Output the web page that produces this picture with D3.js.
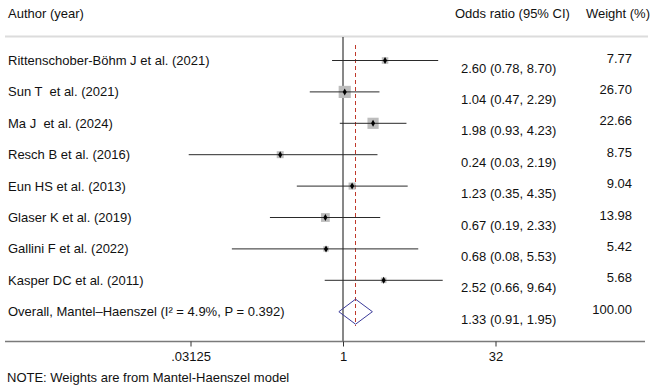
<!DOCTYPE html>
<html>
<head>
<meta charset="utf-8">
<script src="https://cdn.jsdelivr.net/npm/d3@7"></script>
<style>
  body { margin: 0; background: #fff; }
  svg text { font-family: "Liberation Sans", Arial, sans-serif; fill: #111; white-space: pre; }
</style>
</head>
<body>
<svg id="chart"></svg>
<script>
// study data
const studies = [
  "Rittenschober-Böhm J et al. (2021)",
  "Sun T  et al. (2021)",
  "Ma J  et al. (2024)",
  "Resch B et al. (2016)",
  "Eun HS et al. (2013)",
  "Glaser K et al. (2019)",
  "Gallini F et al. (2022)",
  "Kasper DC et al. (2011)"
];
const oddsRatio = [2.60, 1.04, 1.98, 0.24, 1.23, 0.67, 0.68, 2.52];
const ciLow = [0.78, 0.47, 0.93, 0.03, 0.35, 0.19, 0.08, 0.66];
const ciHigh = [8.70, 2.29, 4.23, 2.19, 4.35, 2.33, 5.53, 9.64];
const weights = [7.77, 26.70, 22.66, 8.75, 9.04, 13.98, 5.42, 5.68];

const overallLabel = "Overall, Mantel–Haenszel (I² = 4.9%, P = 0.392)";
const overall = { or: 1.33, lo: 0.91, hi: 1.95, w: 100.00 };

const tickValues = [0.03125, 1, 32];
const tickLabels = [".03125", "1", "32"];

const width = 653, height = 390;
const fmt = d3.format(".2f");

const svg = d3.select("#chart")
  .attr("width", width)
  .attr("height", height);

// log2 scale for odds ratio
const x = d3.scaleLog().base(2)
  .domain([1 / 32, 32])
  .range([190.5, 495.5]);

const rows = studies.map((s, i) => ({
  label: s, or: oddsRatio[i], lo: ciLow[i], hi: ciHigh[i], w: weights[i]
}));

const y = d3.scalePoint()
  .domain(d3.range(rows.length + 1))
  .range([60.5, 311.7]);

const sizeScale = d3.scaleSqrt().domain([0, 100]).range([0, 23.5]);

// header
svg.append("text").attr("x", 8).attr("y", 18).attr("font-size", 13).text("Author (year)");
svg.append("text").attr("x", 455).attr("y", 18).attr("font-size", 13).text("Odds ratio (95% CI)");
svg.append("text").attr("x", 650).attr("y", 18).attr("font-size", 13)
  .attr("text-anchor", "end").text("Weight (%)");

svg.append("line")
  .attr("x1", 5).attr("x2", 648)
  .attr("y1", 36.5).attr("y2", 36.5)
  .attr("stroke", "#dcdcdc").attr("stroke-width", 2);

const axisY = 341.5;

// null line at 1
svg.append("line")
  .attr("x1", x(1)).attr("x2", x(1))
  .attr("y1", 37).attr("y2", axisY)
  .attr("stroke", "#111").attr("stroke-width", 1);

// overall effect dashed line (snapped to pixel so the red stays visible)
const xo = Math.round(x(overall.or)) - 0.5;
svg.append("line")
  .attr("x1", xo).attr("x2", xo)
  .attr("y1", 45).attr("y2", 326)
  .attr("stroke", "#c0392b").attr("stroke-width", 1)
  .attr("stroke-dasharray", "4,3");

const g = svg.selectAll(".study")
  .data(rows)
  .join("g")
  .attr("class", "study")
  .attr("transform", (d, i) => `translate(0,${y(i)})`);

g.append("text")
  .attr("x", 8).attr("dy", "0.35em").attr("font-size", 13)
  .text(d => d.label);

g.append("rect")
  .attr("x", d => x(d.or) - sizeScale(d.w) / 2)
  .attr("y", d => -sizeScale(d.w) / 2)
  .attr("width", d => sizeScale(d.w))
  .attr("height", d => sizeScale(d.w))
  .attr("fill", "#bdbdbd");

g.append("line")
  .attr("x1", d => x(d.lo)).attr("x2", d => x(d.hi))
  .attr("stroke", "#2a2a2a").attr("stroke-width", 1);

g.append("path")
  .attr("transform", d => `translate(${x(d.or)},0)`)
  .attr("d", d3.symbol(d3.symbolDiamond, 14))
  .attr("fill", "#000");

g.append("text")
  .attr("x", 461).attr("y", 7.5).attr("dy", "0.35em").attr("font-size", 13)
  .text(d => `${fmt(d.or)} (${fmt(d.lo)}, ${fmt(d.hi)})`);

g.append("text")
  .attr("x", 632).attr("y", -2.5).attr("dy", "0.35em").attr("font-size", 13)
  .attr("text-anchor", "end")
  .text(d => fmt(d.w));

// overall row
const yo = y(rows.length);
svg.append("text")
  .attr("x", 8).attr("y", yo).attr("dy", "0.35em").attr("font-size", 13)
  .text(overallLabel);

svg.append("path")
  .attr("d", `M${x(overall.lo)},${yo} L${x(overall.or)},${yo - 12.5} L${x(overall.hi)},${yo} L${x(overall.or)},${yo + 12.5} Z`)
  .attr("fill", "none").attr("stroke", "#3b3b9a").attr("stroke-width", 1);

svg.append("text")
  .attr("x", 461).attr("y", yo + 7.5).attr("dy", "0.35em").attr("font-size", 13)
  .text(`${fmt(overall.or)} (${fmt(overall.lo)}, ${fmt(overall.hi)})`);

svg.append("text")
  .attr("x", 632).attr("y", yo - 2.5).attr("dy", "0.35em").attr("font-size", 13)
  .attr("text-anchor", "end")
  .text(fmt(overall.w));

// x axis
svg.append("line")
  .attr("x1", 5).attr("x2", 645)
  .attr("y1", axisY).attr("y2", axisY)
  .attr("stroke", "#7a7a7a").attr("stroke-width", 1.5);

const axis = d3.axisBottom(x)
  .tickValues(tickValues)
  .tickFormat((d, i) => tickLabels[i])
  .tickSize(5)
  .tickPadding(5);

const ax = svg.append("g")
  .attr("transform", `translate(0,${axisY})`)
  .call(axis);
ax.select(".domain").remove();
ax.selectAll(".tick line").attr("stroke", "#333");
ax.selectAll(".tick text")
  .attr("font-size", 13)
  .attr("font-family", "Liberation Sans, Arial, sans-serif")
  .attr("fill", "#111");

svg.append("text")
  .attr("x", 7).attr("y", 382).attr("font-size", 13)
  .text("NOTE: Weights are from Mantel-Haenszel model");
</script>
</body>
</html>
